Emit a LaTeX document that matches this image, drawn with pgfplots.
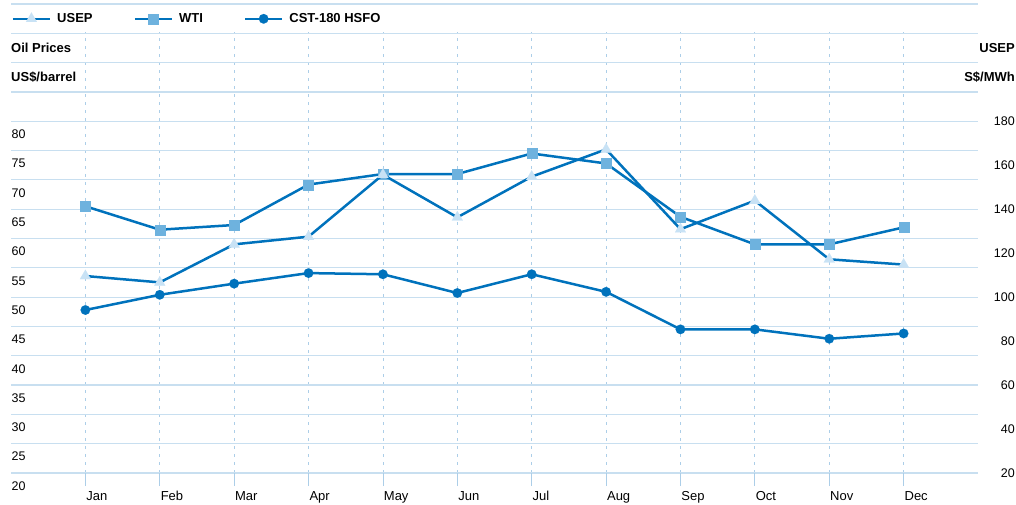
\documentclass[border=0pt]{standalone}
\usepackage{fontspec}
\setmainfont{Liberation Sans}
\usepackage{pgfplots}
\pgfplotsset{compat=1.18}
\definecolor{lineblue}{RGB}{0,114,188}
\definecolor{sqfill}{RGB}{110,178,222}
\definecolor{trifill}{RGB}{200,226,245}
\definecolor{gridc}{RGB}{200,223,240}
\definecolor{vgridc}{RGB}{172,206,232}
\pgfplotsset{
  base/.style={
    scale only axis, width=967pt, height=469pt,
    xmin=-1, xmax=12, clip=false,
    axis line style={draw=none},
    ticklabel style={font=\fontsize{12.5}{14}\selectfont},
    /pgf/number format/assume math mode=true,
  },
  usep/.style={lineblue, line width=2.5pt, mark=triangle*, mark size=6.3pt,
    mark options={fill=trifill, draw=trifill, line width=0.1pt}},
  wti/.style={lineblue, line width=2.5pt, mark=square*, mark size=5pt,
    mark options={fill=sqfill, draw=sqfill, line width=0.1pt}},
  cst/.style={lineblue, line width=2.5pt, mark=*, mark size=4.8pt,
    mark options={fill=lineblue, draw=lineblue, line width=0.1pt}},
}
\newcommand{\titlefont}{\bfseries\fontsize{13}{15}\selectfont}
\begin{document}
\begin{tikzpicture}
\path[use as bounding box] (-11pt,-32pt) rectangle (1005pt,473pt);
\begin{axis}[base,
  ymin=20, ymax=100,
  ytick={20,25,...,100},
  yticklabels={20,25,30,35,40,45,50,55,60,65,70,75,80,{},{},{},{}},
  yticklabel style={anchor=west, inner sep=0pt, xshift=13.5pt, yshift=-13pt},
  ytick style={draw=none},
  xtick={0,...,11},
  xticklabels={Jan,Feb,Mar,Apr,May,Jun,Jul,Aug,Sep,Oct,Nov,Dec},
  xtick pos=left,
  tick align=outside,
  major tick length=13pt,
  xtick style={draw=vgridc, line width=0.8pt},
  xticklabel style={anchor=base west, inner sep=0pt, xshift=0.8pt, yshift=-14pt, font=\fontsize{13}{15}\selectfont},
  ymajorgrids, xmajorgrids,
  y grid style={gridc, line width=1.2pt},
  x grid style={vgridc, line width=0.8pt, dash pattern=on 3pt off 5pt},
]
\fill[white] (rel axis cs:0,0.9985) rectangle (rel axis cs:1,0.9395);
\addplot[wti] coordinates {(0,65.5) (1,61.5) (2,62.3) (3,69.2) (4,71.0) (5,71.0) (6,74.5) (7,72.8) (8,63.7) (9,59.0) (10,59.0) (11,61.9)};
\addplot[cst] coordinates {(0,47.8) (1,50.4) (2,52.3) (3,54.1) (4,53.9) (5,50.7) (6,53.9) (7,50.9) (8,44.5) (9,44.5) (10,42.9) (11,43.8)};
\node[anchor=base west, inner sep=0pt, font=\titlefont] at (rel axis cs:0,0.8966) {Oil Prices};
\node[anchor=base west, inner sep=0pt, font=\titlefont] at (rel axis cs:0,0.8337) {US\$/barrel};
\node[anchor=base east, inner sep=0pt, xshift=37pt, font=\titlefont] at (rel axis cs:1,0.8966) {USEP};
\node[anchor=base east, inner sep=0pt, xshift=37pt, font=\titlefont] at (rel axis cs:1,0.8337) {S\$/MWh};
\end{axis}
\begin{axis}[base,
  hide x axis,
  ymin=20, ymax=233.3333,
  ytick={20,40,...,180},
  ytick pos=right, yticklabel pos=right,
  ytick style={draw=none},
  yticklabel style={anchor=east, inner sep=0pt, xshift=37pt},
  legend columns=3,
  legend style={at={(0,1)}, anchor=west, xshift=0.7pt, yshift=-14.3pt,
    draw=none, fill=none, inner sep=0pt, outer sep=0pt,
    font=\titlefont,
    nodes={inner sep=0pt},
    cells={anchor=west},
    /tikz/every odd column/.append style={column sep=6pt},
    /tikz/every even column/.append style={column sep=41pt}},
  legend image code/.code={\draw[mark repeat=2, mark phase=2] plot coordinates {(0pt,0pt) (18.5pt,0pt) (37pt,0pt)};},
]
\addplot[usep] coordinates {(0,109.6) (1,106.7) (2,124.0) (3,127.5) (4,155.7) (5,136.3) (6,154.8) (7,167.2) (8,130.9) (9,143.9) (10,117.2) (11,114.8)};
\addlegendentry{USEP}
\addlegendimage{wti}
\addlegendentry{WTI}
\addlegendimage{cst}
\addlegendentry{CST-180 HSFO}
\end{axis}
\end{tikzpicture}
\end{document}
